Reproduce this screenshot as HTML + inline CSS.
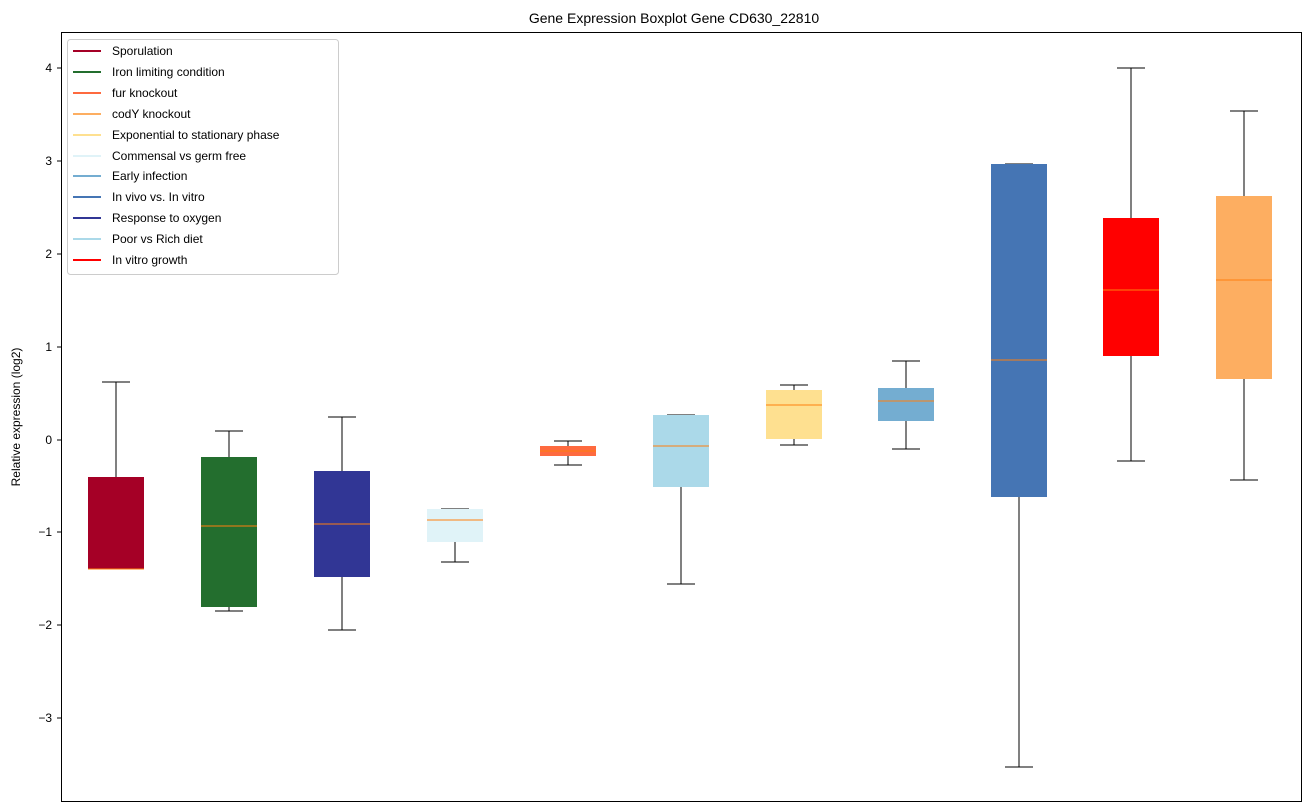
<!DOCTYPE html>
<html><head><meta charset="utf-8"><style>
body{margin:0;background:#fff;}
svg{display:block;font-family:"Liberation Sans","DejaVu Sans",sans-serif;}
</style></head><body>
<svg width="1309" height="812" xmlns="http://www.w3.org/2000/svg">
<rect width="1309" height="812" fill="#fff"/>
<text x="674" y="23" font-size="14" text-anchor="middle">Gene Expression Boxplot Gene CD630_22810</text>
<text transform="translate(20,417) rotate(-90)" font-size="12" text-anchor="middle">Relative expression (log2)</text>
<g font-size="12" text-anchor="end" shape-rendering="crispEdges">
<line x1="57" y1="68" x2="61" y2="68" stroke="#000"/><text x="52" y="72">4</text>
<line x1="57" y1="161" x2="61" y2="161" stroke="#000"/><text x="52" y="165">3</text>
<line x1="57" y1="254" x2="61" y2="254" stroke="#000"/><text x="52" y="258">2</text>
<line x1="57" y1="347" x2="61" y2="347" stroke="#000"/><text x="52" y="351">1</text>
<line x1="57" y1="440" x2="61" y2="440" stroke="#000"/><text x="52" y="444">0</text>
<line x1="57" y1="532" x2="61" y2="532" stroke="#000"/><text x="52" y="536">−1</text>
<line x1="57" y1="625" x2="61" y2="625" stroke="#000"/><text x="52" y="629">−2</text>
<line x1="57" y1="718" x2="61" y2="718" stroke="#000"/><text x="52" y="722">−3</text>
</g>
<g stroke="#000" stroke-width="1" shape-rendering="crispEdges">
<line x1="116" y1="382" x2="116" y2="477"/><line x1="102" y1="382" x2="130" y2="382"/><line x1="102" y1="569" x2="130" y2="569"/>
<line x1="229" y1="431" x2="229" y2="457"/><line x1="229" y1="607" x2="229" y2="611"/><line x1="215" y1="431" x2="243" y2="431"/><line x1="215" y1="611" x2="243" y2="611"/>
<line x1="342" y1="417" x2="342" y2="471"/><line x1="342" y1="577" x2="342" y2="630"/><line x1="328" y1="417" x2="356" y2="417"/><line x1="328" y1="630" x2="356" y2="630"/>
<line x1="455" y1="542" x2="455" y2="562"/><line x1="441" y1="509" x2="469" y2="509"/><line x1="441" y1="562" x2="469" y2="562"/>
<line x1="568" y1="441" x2="568" y2="446"/><line x1="568" y1="456" x2="568" y2="465"/><line x1="554" y1="441" x2="582" y2="441"/><line x1="554" y1="465" x2="582" y2="465"/>
<line x1="681" y1="487" x2="681" y2="584"/><line x1="667" y1="415" x2="695" y2="415"/><line x1="667" y1="584" x2="695" y2="584"/>
<line x1="794" y1="385" x2="794" y2="390"/><line x1="794" y1="439" x2="794" y2="445"/><line x1="780" y1="385" x2="808" y2="385"/><line x1="780" y1="445" x2="808" y2="445"/>
<line x1="906" y1="361" x2="906" y2="388"/><line x1="906" y1="421" x2="906" y2="449"/><line x1="892" y1="361" x2="920" y2="361"/><line x1="892" y1="449" x2="920" y2="449"/>
<line x1="1019" y1="497" x2="1019" y2="767"/><line x1="1005" y1="164" x2="1033" y2="164"/><line x1="1005" y1="767" x2="1033" y2="767"/>
<line x1="1131" y1="68" x2="1131" y2="218"/><line x1="1131" y1="356" x2="1131" y2="461"/><line x1="1117" y1="68" x2="1145" y2="68"/><line x1="1117" y1="461" x2="1145" y2="461"/>
<line x1="1244" y1="111" x2="1244" y2="196"/><line x1="1244" y1="379" x2="1244" y2="480"/><line x1="1230" y1="111" x2="1258" y2="111"/><line x1="1230" y1="480" x2="1258" y2="480"/>
</g>
<g>
<rect x="88" y="477" width="56" height="92" fill="#a50026"/>
<rect x="201" y="457" width="56" height="150" fill="#236e2e"/>
<rect x="314" y="471" width="56" height="106" fill="#313695"/>
<rect x="427" y="509" width="56" height="33" fill="#e0f3f8"/>
<rect x="540" y="446" width="56" height="10" fill="#fe6a3f"/>
<rect x="653" y="415" width="56" height="72" fill="#abd9e9"/>
<rect x="766" y="390" width="56" height="49" fill="#fee090"/>
<rect x="878" y="388" width="56" height="33" fill="#74add1"/>
<rect x="991" y="164" width="56" height="333" fill="#4575b4"/>
<rect x="1103" y="218" width="56" height="138" fill="#ff0000"/>
<rect x="1216" y="196" width="56" height="183" fill="#fdae61"/>
</g>
<g stroke="#ff7f0e" stroke-width="1" shape-rendering="crispEdges">
<line x1="88" y1="569" x2="144" y2="569"/>
<line x1="201" y1="526" x2="257" y2="526"/>
<line x1="314" y1="524" x2="370" y2="524"/>
<line x1="427" y1="520" x2="483" y2="520"/>
<line x1="540" y1="451" x2="596" y2="451"/>
<line x1="653" y1="446" x2="709" y2="446"/>
<line x1="766" y1="405" x2="822" y2="405"/>
<line x1="878" y1="401" x2="934" y2="401"/>
<line x1="991" y1="360" x2="1047" y2="360"/>
<line x1="1103" y1="290" x2="1159" y2="290"/>
<line x1="1216" y1="280" x2="1272" y2="280"/>
</g>
<rect x="61.5" y="32.5" width="1240" height="769" fill="none" stroke="#000"/>
<rect x="67.5" y="39.5" width="271" height="235" rx="3" fill="#fff" fill-opacity="0.8" stroke="#ccc"/>
<g font-size="12" stroke-width="2">
<line x1="73" y1="51" x2="101" y2="51" stroke="#a50026"/><text x="112" y="55">Sporulation</text>
<line x1="73" y1="72" x2="101" y2="72" stroke="#236e2e"/><text x="112" y="76">Iron limiting condition</text>
<line x1="73" y1="93" x2="101" y2="93" stroke="#fe6a3f"/><text x="112" y="97">fur knockout</text>
<line x1="73" y1="114" x2="101" y2="114" stroke="#fdae61"/><text x="112" y="118">codY knockout</text>
<line x1="73" y1="135" x2="101" y2="135" stroke="#fee090"/><text x="112" y="139">Exponential to stationary phase</text>
<line x1="73" y1="156" x2="101" y2="156" stroke="#e0f3f8"/><text x="112" y="160">Commensal vs germ free</text>
<line x1="73" y1="176" x2="101" y2="176" stroke="#74add1"/><text x="112" y="180">Early infection</text>
<line x1="73" y1="197" x2="101" y2="197" stroke="#4575b4"/><text x="112" y="201">In vivo vs. In vitro</text>
<line x1="73" y1="218" x2="101" y2="218" stroke="#313695"/><text x="112" y="222">Response to oxygen</text>
<line x1="73" y1="239" x2="101" y2="239" stroke="#abd9e9"/><text x="112" y="243">Poor vs Rich diet</text>
<line x1="73" y1="260" x2="101" y2="260" stroke="#ff0000"/><text x="112" y="264">In vitro growth</text>
</g>
</svg>
</body></html>
